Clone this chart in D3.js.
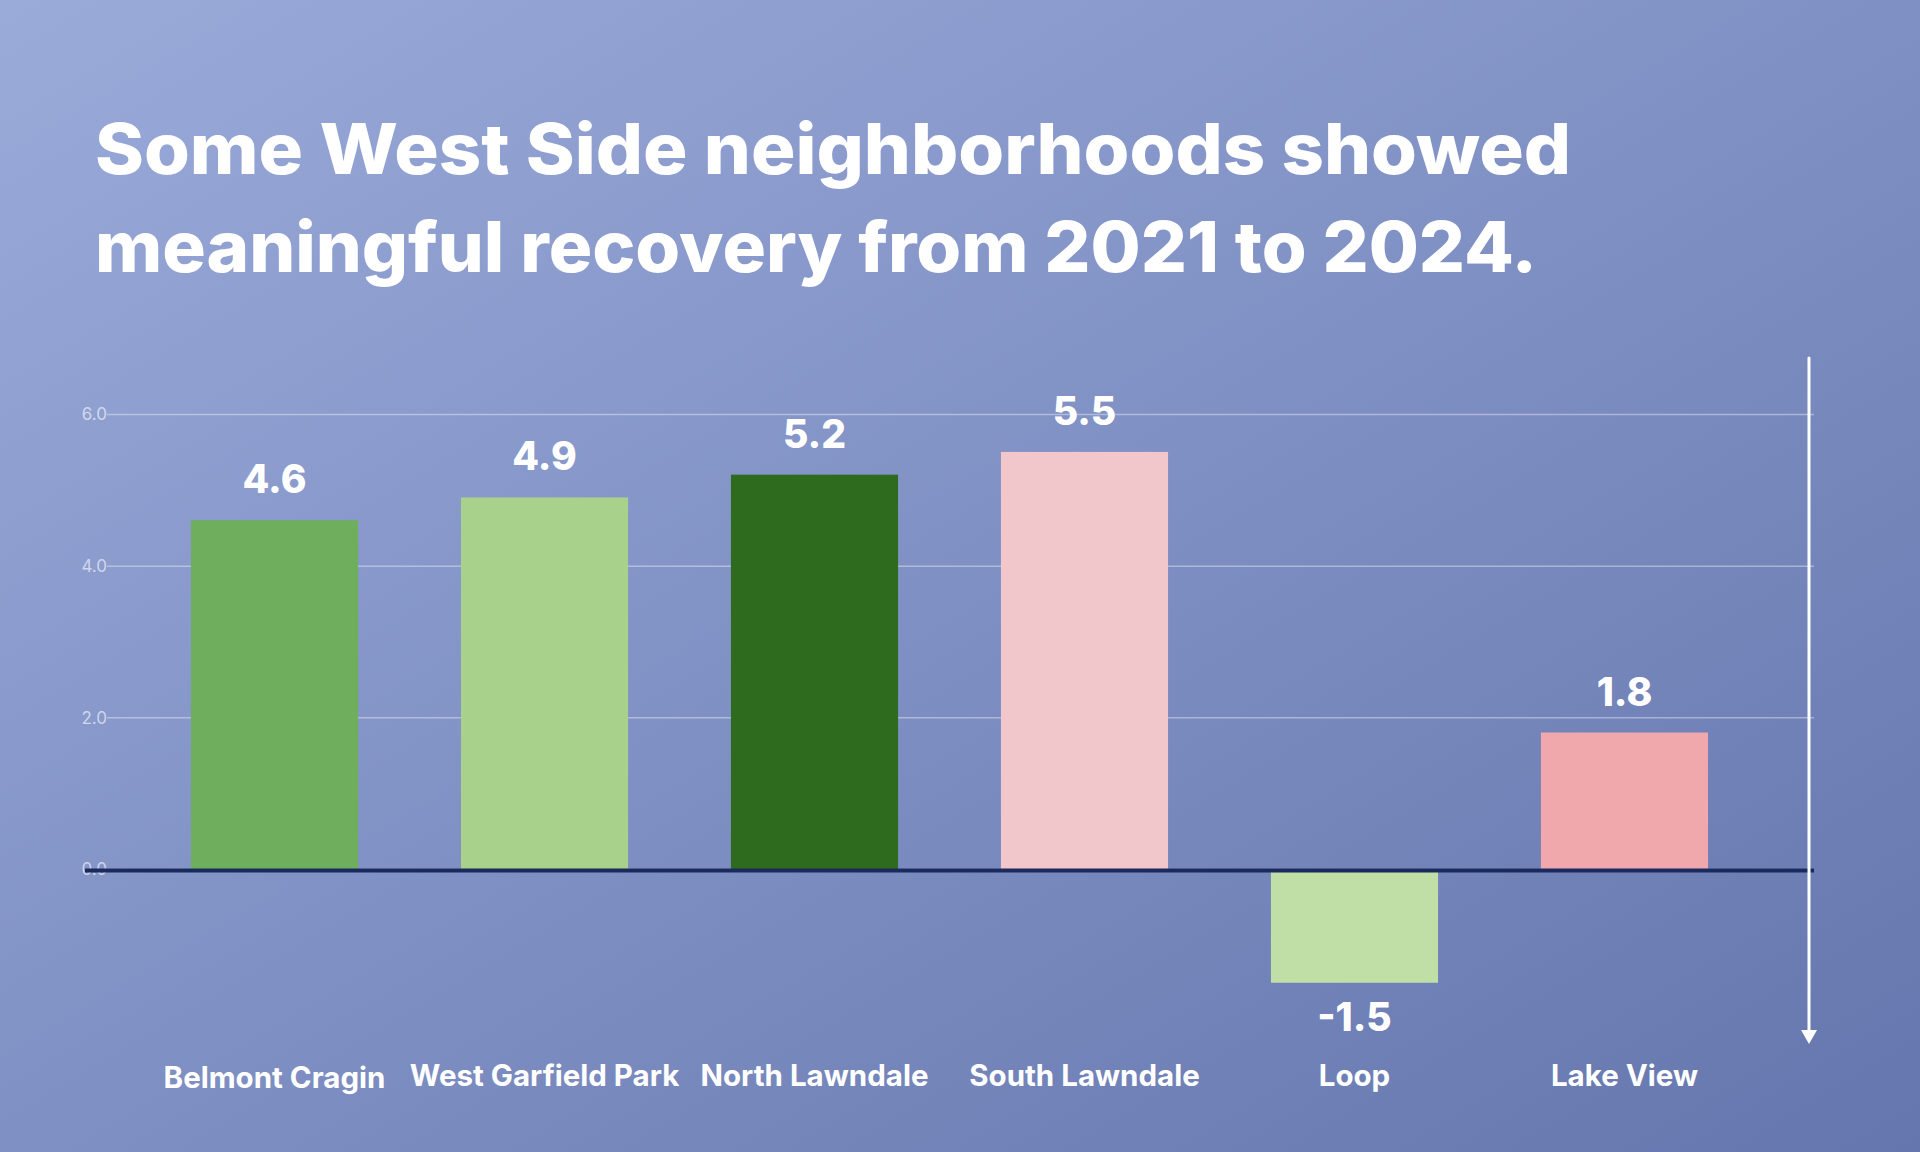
<!DOCTYPE html>
<html>
<head>
<meta charset="utf-8">
<script src="https://cdn.jsdelivr.net/npm/d3@7"></script>
<style>
  html, body { margin: 0; padding: 0; }
  body { width: 1920px; height: 1152px; overflow: hidden; }
  svg { display: block; }
</style>
</head>
<body>
<svg id="chart" width="1920" height="1152"></svg>
<script>
const categories = ["Belmont Cragin", "West Garfield Park", "North Lawndale", "South Lawndale", "Loop", "Lake View"];
const values = [4.6, 4.9, 5.2, 5.5, -1.5, 1.8];
const barColors = ["#6fae5d", "#a8d18b", "#2e6b1e", "#f2c7cb", "#bfdfa7", "#f0a8ac"];
const yTicks = [0, 2, 4, 6];
const titleLines = ["Some West Side neighborhoods showed", "meaningful recovery from 2021 to 2024."];

const W = 1920, H = 1152;
const svg = d3.select("#chart");
const defs = svg.append("defs");
const grad = defs.append("linearGradient").attr("id", "bg")
  .attr("x1", "0%").attr("y1", "0%").attr("x2", "100%").attr("y2", "100%");
grad.append("stop").attr("offset", "0%").attr("stop-color", "#9aaad9");
grad.append("stop").attr("offset", "100%").attr("stop-color", "#6576ae");
svg.append("rect").attr("width", W).attr("height", H).attr("fill", "url(#bg)");

const FONT = "Inter, 'Open Sans', sans-serif";
const fmt = v => d3.format(".1f")(v).replace("\u2212", "-");

// Title
const titleWidths = [1476, 1442];
const title = svg.append("g");
titleLines.forEach((t, i) => {
  title.append("text")
    .attr("x", 95).attr("y", 174 + i * 98)
    .attr("fill", "#ffffff")
    .attr("font-family", FONT).attr("font-weight", 800)
    .attr("font-size", 70)
    .attr("textLength", titleWidths[i])
    .attr("lengthAdjust", "spacingAndGlyphs")
    .text(t);
});

// Scales
const x = d3.scaleBand().domain(categories).range([85, 1814])
  .paddingInner(0.381).paddingOuter(0.3925);
const y = d3.scaleLinear().domain([0, 6]).range([869, 414]);

// Gridlines + tick labels via axis
const yAxis = d3.axisLeft(y).tickValues(yTicks).tickFormat(fmt)
  .tickSize(-(1814 - 107)).tickPadding(0);
const gy = svg.append("g").attr("transform", "translate(107,0)").call(yAxis);
gy.select(".domain").remove();
gy.selectAll(".tick line").attr("stroke", "rgba(255,255,255,0.38)").attr("stroke-width", 1.5);
gy.selectAll(".tick text")
  .attr("fill", "rgba(255,255,255,0.6)")
  .attr("font-family", FONT).attr("font-size", 17)
  .attr("x", 0).attr("dy", "0.35em");

// Bars
svg.append("g").selectAll("rect").data(categories).join("rect")
  .attr("x", d => x(d))
  .attr("width", x.bandwidth())
  .attr("y", (d, i) => Math.min(y(values[i]), y(0)))
  .attr("height", (d, i) => Math.abs(y(values[i]) - y(0)))
  .attr("fill", (d, i) => barColors[i]);

// Zero line
svg.append("line")
  .attr("x1", 85).attr("x2", 1814)
  .attr("y1", y(0) + 1.5).attr("y2", y(0) + 1.5)
  .attr("stroke", "#1b2a5c").attr("stroke-width", 4);

// Value labels
svg.append("g").selectAll("text").data(categories).join("text")
  .attr("x", d => x(d) + x.bandwidth() / 2)
  .attr("y", (d, i) => values[i] >= 0 ? y(values[i]) - 27 : y(values[i]) + 48)
  .attr("text-anchor", "middle")
  .attr("fill", "#ffffff")
  .attr("font-family", FONT).attr("font-weight", 800)
  .attr("font-size", 39)
  .text((d, i) => fmt(values[i]));

// Category labels
svg.append("g").selectAll("text").data(categories).join("text")
  .attr("x", d => x(d) + x.bandwidth() / 2)
  .attr("y", (d, i) => i === 0 ? 1088 : 1086)
  .attr("text-anchor", "middle")
  .attr("fill", "#ffffff")
  .attr("font-family", FONT).attr("font-weight", 700)
  .attr("font-size", 29.5)
  .text(d => d);

// Vertical arrow
svg.append("line")
  .attr("x1", 1809).attr("x2", 1809)
  .attr("y1", 358).attr("y2", 1036)
  .attr("stroke", "#ffffff").attr("stroke-width", 3).attr("stroke-linecap", "round");
svg.append("path")
  .attr("d", d3.line()([[1801, 1030], [1817, 1030], [1809, 1044]]) + "Z")
  .attr("fill", "#ffffff");
</script>
</body>
</html>
